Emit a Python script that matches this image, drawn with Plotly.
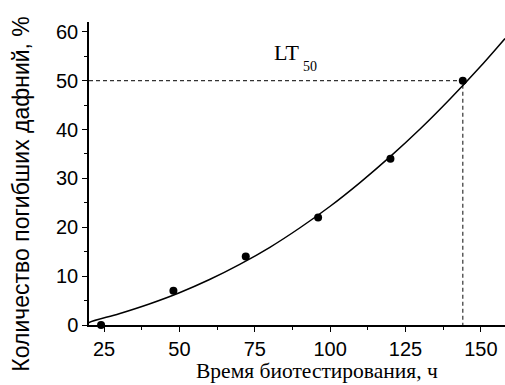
import plotly.graph_objects as go

# Experimental points
time_h = [24, 48, 72, 96, 120, 144]
mortality = [0, 7, 14, 22, 34, 50]

# Fitted curve
fit_x = [19, 20, 30, 40, 50, 60, 70, 80, 90, 100, 110, 120, 130, 140, 150, 156, 158]
fit_y = [0.0, 0.5, 2.3, 4.3, 6.6, 9.3, 12.4, 15.9, 19.9, 24.3, 29.2, 34.5, 40.2, 46.4, 53.0, 57.2, 58.6]

lt50_x = 144
lt50_y = 50

x_ticks = [25, 50, 75, 100, 125, 150]
y_ticks = [0, 10, 20, 30, 40, 50, 60]

x_range = [20, 158]
y_range = [0, 62]

fig = go.Figure()

# dashed guide lines
fig.add_trace(go.Scatter(
    x=[x_range[0], lt50_x, lt50_x], y=[lt50_y, lt50_y, y_range[0]],
    mode="lines", line=dict(color="#333333", width=1.2, dash="4px,3px"),
    hoverinfo="skip", showlegend=False))

fig.add_trace(go.Scatter(
    x=fit_x, y=fit_y, mode="lines", line=dict(color="black", width=1.5, shape="spline"),
    showlegend=False))

fig.add_trace(go.Scatter(
    x=time_h, y=mortality, mode="markers",
    marker=dict(color="black", size=8), showlegend=False, cliponaxis=False))

axis_font = dict(family="Liberation Sans, Arial, sans-serif", size=20, color="black")
serif = "Liberation Serif, Times New Roman, serif"

fig.update_layout(
    width=505, height=385,
    margin=dict(l=89, r=0, t=22, b=60),
    plot_bgcolor="white", paper_bgcolor="white",
    xaxis=dict(range=x_range, tickvals=x_ticks, ticks="outside", ticklen=5, tickwidth=1.2,
               tickcolor="black", showline=True, linecolor="black", linewidth=1.5,
               showgrid=False, zeroline=False, tickfont=axis_font,
               minor=dict(tickvals=[37.5, 62.5, 87.5, 112.5, 137.5], ticks="outside",
                          ticklen=3, tickwidth=1.2, tickcolor="black")),
    yaxis=dict(range=y_range, tickvals=y_ticks, ticks="outside", ticklen=5, tickwidth=1.2,
               tickcolor="black", showline=True, linecolor="black", linewidth=1.5,
               showgrid=False, zeroline=False, tickfont=axis_font,
               minor=dict(tickvals=[5, 15, 25, 35, 45, 55], ticks="outside",
                          ticklen=3, tickwidth=1.2, tickcolor="black")),
    annotations=[
        dict(text="Количество погибших дафний, %", xref="paper", yref="paper",
             x=-0.163, y=0.434, xanchor="center", yanchor="middle", textangle=-90,
             showarrow=False, font=dict(family="Liberation Sans, Arial, sans-serif", size=23, color="black")),
        dict(text="Время биотестирования, ч", xref="paper", yref="paper",
             x=0.547, y=-0.197, xanchor="center", yanchor="bottom",
             showarrow=False, font=dict(family=serif, size=21.5, color="black")),
        dict(text="LT", xref="x", yref="y",
             x=80.7, y=52.7, xanchor="left", yanchor="bottom",
             showarrow=False, font=dict(family=serif, size=22, color="black")),
        dict(text="50", xref="x", yref="y",
             x=90.3, y=51.0, xanchor="left", yanchor="bottom",
             showarrow=False, font=dict(family=serif, size=14, color="black")),
    ],
)

fig.write_html("out.html")
